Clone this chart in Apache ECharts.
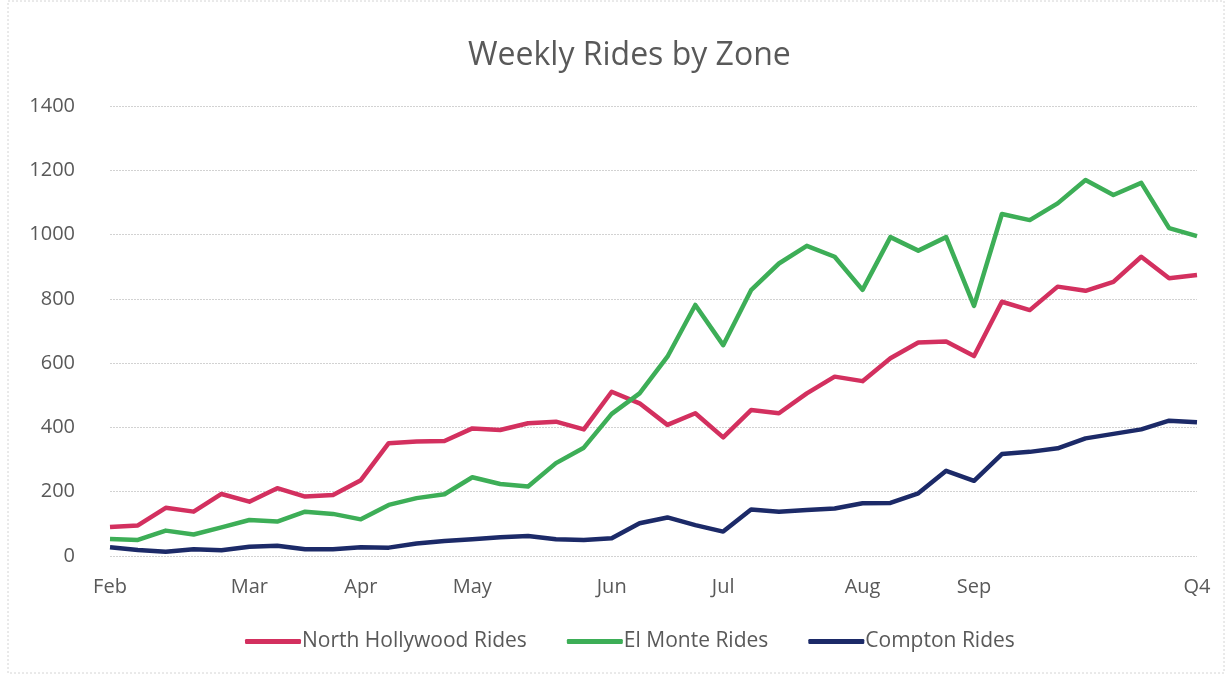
<!DOCTYPE html>
<html>
<head>
<meta charset="utf-8">
<script src="https://cdn.jsdelivr.net/npm/echarts@6/dist/echarts.min.js"></script>
<style>
  html, body { margin: 0; padding: 0; background: #fff; }
  #chart { width: 1228px; height: 675px; }
</style>
</head>
<body>
<div id="chart"></div>
<script>
// weekly buckets, 40 weeks from Feb to Q4
const weeks = [];
for (let i = 1; i <= 40; i++) weeks.push('W' + i);

// month tick labels and the week they sit on
const tickLabels = ['Feb', 'Mar', 'Apr', 'May', 'Jun', 'Jul', 'Aug', 'Sep', 'Q4'];
const tickWeeks = [0, 5, 9, 13, 18, 22, 27, 31, 39];

const northHollywood = [90, 95, 150, 138, 193, 169, 211, 185, 190, 236,
  351, 356, 358, 397, 392, 413, 418, 394, 511, 475,
  408, 444, 369, 454, 444, 506, 558, 544, 615, 664,
  667, 622, 791, 765, 838, 825, 853, 931, 864, 874];

const elMonte = [53, 50, 79, 67, 89, 112, 107, 138, 131, 114,
  159, 180, 192, 245, 224, 216, 289, 337, 442, 506,
  620, 781, 656, 827, 910, 965, 931, 828, 992, 950,
  992, 778, 1064, 1045, 1097, 1170, 1123, 1161, 1020, 995];

const compton = [27, 19, 13, 21, 18, 29, 32, 21, 21, 27,
  26, 39, 47, 52, 58, 62, 52, 50, 55, 102,
  120, 96, 76, 145, 138, 143, 148, 164, 165, 195,
  265, 234, 317, 324, 335, 366, 380, 394, 421, 416];

const chart = echarts.init(document.getElementById('chart'));

const textColor = '#595959';
const font = '"Open Sans", "Noto Sans", sans-serif';

function lineSeries(name, data, color) {
  return {
    name: name,
    type: 'line',
    data: data,
    symbol: 'none',
    lineStyle: { color: color, width: 4.5, join: 'round' },
    itemStyle: { color: color }
  };
}

chart.setOption({
  animation: false,
  title: {
    text: 'Weekly Rides by Zone',
    left: 463,
    top: 35,
    textStyle: { color: textColor, fontSize: 32, fontWeight: 'normal', fontFamily: font }
  },
  graphic: [{
    type: 'rect',
    shape: { x: 8, y: 1, width: 1216, height: 672 },
    style: { fill: 'none', stroke: '#d4d4d4', lineWidth: 1, lineDash: [2, 2] },
    silent: true
  }],
  legend: {
    bottom: 18,
    left: 240,
    itemWidth: 56,
    itemHeight: 5,
    itemGap: 40,
    icon: 'roundRect',
    textStyle: { color: textColor, fontSize: 21, fontFamily: font, padding: [0, 0, 0, -4] },
    data: ['North Hollywood Rides', 'El Monte Rides', 'Compton Rides']
  },
  grid: { left: 110, right: 31, top: 106, bottom: 119 },
  xAxis: {
    type: 'category',
    data: weeks,
    boundaryGap: false,
    axisLine: { show: false },
    axisTick: { show: false },
    axisLabel: {
      interval: 0,
      margin: 21,
      color: textColor,
      fontSize: 20,
      fontFamily: font,
      formatter: function (val, idx) {
        const k = tickWeeks.indexOf(idx);
        return k >= 0 ? tickLabels[k] : '';
      }
    }
  },
  yAxis: {
    type: 'value',
    min: 0,
    max: 1400,
    interval: 200,
    axisLine: { show: false },
    axisTick: { show: false },
    axisLabel: { color: textColor, fontSize: 20, fontFamily: font, margin: 35, formatter: v => String(v) },
    splitLine: { lineStyle: { color: '#d2d2d2', width: 1, type: [2, 1] } }
  },
  series: [
    lineSeries('North Hollywood Rides', northHollywood, '#d3305f'),
    lineSeries('El Monte Rides', elMonte, '#3dae57'),
    lineSeries('Compton Rides', compton, '#1c2a68')
  ]
});
</script>
</body>
</html>
